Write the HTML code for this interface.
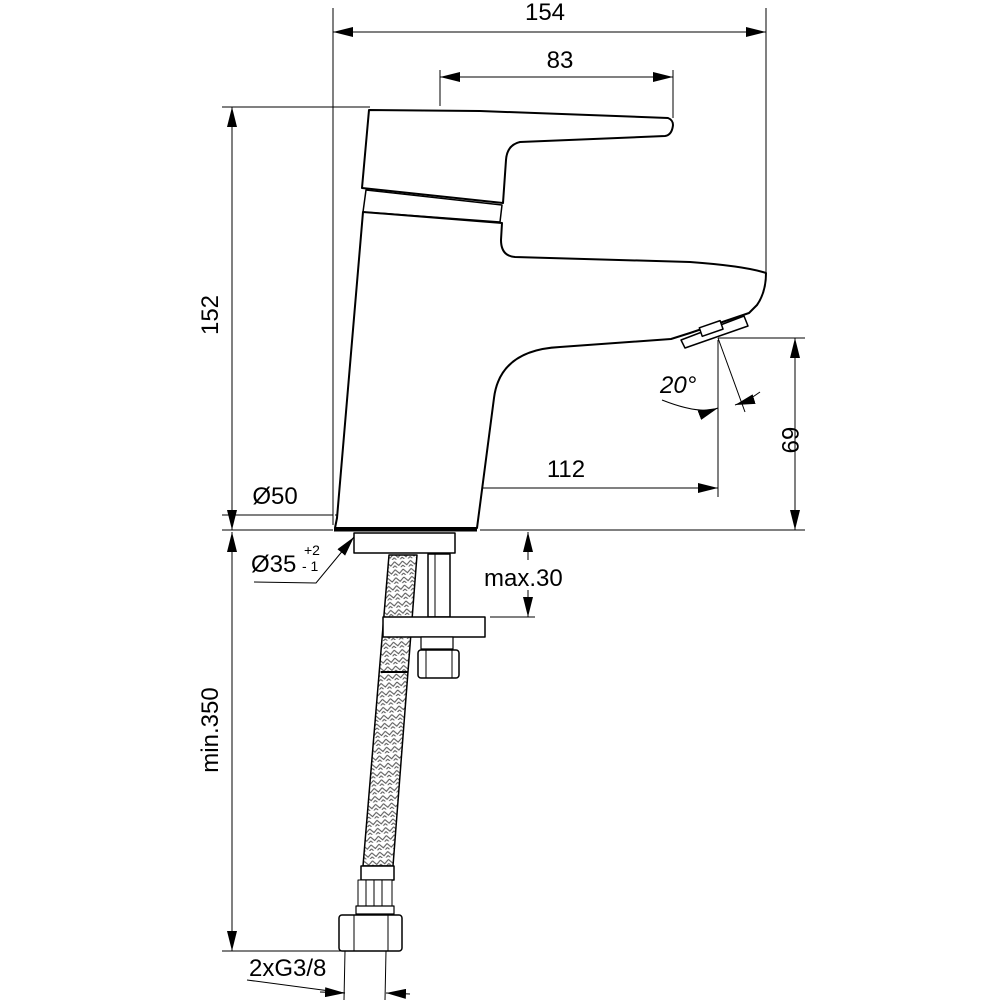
<!DOCTYPE html>
<html><head><meta charset="utf-8"><style>
html,body{margin:0;padding:0;background:#fff;}
svg{display:block;}
text{font-family:"Liberation Sans",Arial,sans-serif;fill:#000;}
</style></head><body>
<svg width="1000" height="1000" viewBox="0 0 1000 1000" xmlns="http://www.w3.org/2000/svg">
<defs>
<marker id="a" viewBox="0 0 20 10" refX="20" refY="5" markerWidth="20" markerHeight="10" markerUnits="userSpaceOnUse" orient="auto-start-reverse">
<path d="M0,0 L20,5 L0,10 z" fill="#000"/></marker>
<pattern id="br" width="8" height="8" patternUnits="userSpaceOnUse" patternTransform="rotate(-5)">
<path d="M0,2 L4,6 L8,2 M0,6 L4,10 L8,6" stroke="#555" stroke-width="1" fill="none"/></pattern>
</defs>
<g stroke="#000" fill="none" stroke-width="1">
<line x1="333" y1="8" x2="333" y2="525"/>
<line x1="766" y1="8" x2="766" y2="275"/>
<line x1="440" y1="70" x2="440" y2="106"/>
<line x1="673" y1="70" x2="673" y2="118"/>
<line x1="222" y1="107" x2="370" y2="107"/>
<line x1="222" y1="530" x2="333" y2="530"/>
<line x1="480" y1="530" x2="805" y2="530"/>
<line x1="222" y1="515" x2="333" y2="515"/>
<line x1="404" y1="480" x2="404" y2="530"/>
<line x1="718" y1="340" x2="718" y2="497"/>
<line x1="718" y1="338" x2="805" y2="338"/>
<line x1="490" y1="617" x2="535" y2="617"/>
<line x1="222" y1="951" x2="345" y2="951"/>
<line x1="345" y1="951" x2="344" y2="1000"/>
<line x1="386" y1="951" x2="385" y2="1000"/>
<line x1="333" y1="32" x2="766" y2="32" marker-start="url(#a)" marker-end="url(#a)"/>
<line x1="440" y1="77" x2="673" y2="77" marker-start="url(#a)" marker-end="url(#a)"/>
<line x1="232" y1="107" x2="232" y2="530" marker-start="url(#a)" marker-end="url(#a)"/>
<line x1="232" y1="532" x2="232" y2="951" marker-start="url(#a)" marker-end="url(#a)"/>
<line x1="795" y1="338" x2="795" y2="530" marker-start="url(#a)" marker-end="url(#a)"/>
<line x1="404" y1="488" x2="718" y2="488" marker-start="url(#a)" marker-end="url(#a)"/>
<line x1="335" y1="515" x2="476" y2="515" marker-start="url(#a)" marker-end="url(#a)"/>
<line x1="528" y1="560" x2="528" y2="532" marker-end="url(#a)"/>
<line x1="528" y1="590" x2="528" y2="617" marker-end="url(#a)"/>
<line x1="247" y1="980" x2="345" y2="993"/>
<line x1="320" y1="992" x2="345" y2="993" marker-end="url(#a)"/>
<line x1="410" y1="994" x2="386" y2="993" marker-end="url(#a)"/>
<polyline points="254,582 316,583 354,537" marker-end="url(#a)"/>
<line x1="718" y1="338" x2="745" y2="412"/>
<path d="M662,400 Q700,415 718,408" marker-end="url(#a)"/>
<path d="M735,405 Q748,401 760,392" marker-start="url(#a)"/>
</g>
<g stroke="#000" fill="#fff" stroke-width="2" stroke-linejoin="round">
<path d="M369,110 L480,111 L668,118 Q673,120 673,125 Q672,135 665,136 L520,142 Q507,145 506,160 L503,203 L362,188 Z"/>
<path d="M366,190 L502,205 L500,222 L363,212 Z" stroke-width="1.5"/>
<path d="M363,212 L502,223 L501,240 Q501,256 515,257 L690,262 Q745,266 766,273 Q766,292 757,305 L749,313 L690,333 L671,339 L560,347 Q500,350 494,398 L477,528 L335,528 L337,518 Z"/>
<line x1="334" y1="530" x2="477" y2="530" stroke-width="3"/>
<path d="M681,340 L744,316 L748,326 L685,348 Z" stroke-width="1.5"/>
<rect x="700" y="324" width="22" height="9" transform="rotate(-19 711 328)" stroke-width="1.5"/>
<rect x="354" y="533" width="101" height="20" stroke-width="1.5"/>
<rect x="428" y="554" width="22" height="63" stroke-width="1.5"/>
<line x1="435" y1="554" x2="435" y2="617" stroke-width="1"/>
<path d="M389,555 L417,555 L393,866 L363,866 Z" fill="url(#br)" stroke-width="1.5"/>
<line x1="381" y1="672" x2="408" y2="672" stroke-width="2"/>
<rect x="383" y="617" width="102" height="20" stroke-width="1.5"/>
<rect x="421" y="637" width="32" height="12" stroke-width="1.2"/>
<rect x="418" y="650" width="41" height="28" rx="3" stroke-width="1.5"/>
<line x1="426" y1="650" x2="426" y2="678" stroke-width="1"/>
<line x1="452" y1="650" x2="452" y2="678" stroke-width="1"/>
<rect x="361" y="866" width="33" height="14" stroke-width="1.5"/>
<rect x="358" y="880" width="34" height="26" stroke-width="1"/>
<line x1="366" y1="880" x2="366" y2="906" stroke-width="1"/>
<line x1="374" y1="880" x2="374" y2="906" stroke-width="1"/>
<line x1="382" y1="880" x2="382" y2="906" stroke-width="1"/>
<rect x="356" y="906" width="38" height="8" stroke-width="1.2"/>
<rect x="339" y="915" width="63" height="36" rx="3" stroke-width="1.5"/>
<line x1="354" y1="915" x2="354" y2="951" stroke-width="1"/>
<line x1="388" y1="915" x2="388" y2="951" stroke-width="1"/>
</g>
<g font-size="24">
<text x="545" y="20" text-anchor="middle">154</text>
<text x="560" y="68" text-anchor="middle">83</text>
<text x="566" y="477" text-anchor="middle">112</text>
<text x="275" y="504" text-anchor="middle">Ø50</text>
<text x="251" y="572">Ø35</text>
<text x="304" y="555" font-size="14">+2</text>
<text x="302" y="571" font-size="14">- 1</text>
<text x="484" y="586">max.30</text>
<text x="660" y="393" font-style="italic">20°</text>
<text x="249" y="976">2xG3/8</text>
<text transform="translate(218,315) rotate(-90)" text-anchor="middle">152</text>
<text transform="translate(218,730) rotate(-90)" text-anchor="middle">min.350</text>
<text transform="translate(782,440) rotate(90)" text-anchor="middle">69</text>
</g>
</svg>
</body></html>
